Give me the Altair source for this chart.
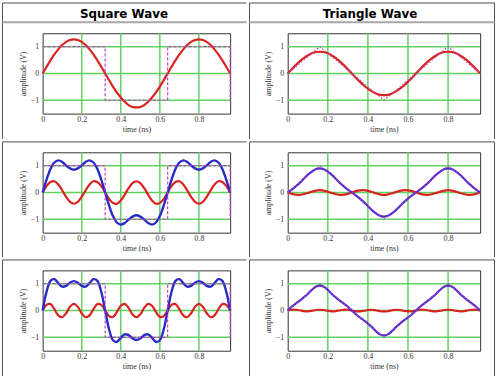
import altair as alt
import pandas as pd

# ---------------- data ----------------
time_ns = [0.00, 0.02, 0.04, 0.06, 0.08, 0.10, 0.12, 0.14, 0.16, 0.18, 0.20, 0.22, 0.24, 0.26, 0.28, 0.30,
           0.32, 0.34, 0.36, 0.38, 0.40, 0.42, 0.44, 0.46, 0.48, 0.50, 0.52, 0.54, 0.56, 0.58, 0.60, 0.62,
           0.64, 0.66, 0.68, 0.70, 0.72, 0.74, 0.76, 0.78, 0.80, 0.82, 0.84, 0.86, 0.88, 0.90, 0.92, 0.94,
           0.96]

# square wave, panel 1: fundamental (red)
sq_fund = [0, 0.25, 0.49, 0.71, 0.90, 1.06, 1.18, 1.25, 1.27, 1.25, 1.18, 1.06, 0.90, 0.71, 0.49, 0.25,
           0, -0.25, -0.49, -0.71, -0.90, -1.06, -1.18, -1.25, -1.27, -1.25, -1.18, -1.06, -0.90, -0.71, -0.49, -0.25,
           0, 0.25, 0.49, 0.71, 0.90, 1.06, 1.18, 1.25, 1.27, 1.25, 1.18, 1.06, 0.90, 0.71, 0.49, 0.25,
           0]
# square wave, panel 2: 3rd harmonic (red) and sum (blue)
sq_h3 = [0, 0.24, 0.39, 0.42, 0.30, 0.08, -0.16, -0.35, -0.42, -0.35, -0.16, 0.08, 0.30, 0.42, 0.39, 0.24,
         0, -0.24, -0.39, -0.42, -0.30, -0.08, 0.16, 0.35, 0.42, 0.35, 0.16, -0.08, -0.30, -0.42, -0.39, -0.24,
         0, 0.24, 0.39, 0.42, 0.30, 0.08, -0.16, -0.35, -0.42, -0.35, -0.16, 0.08, 0.30, 0.42, 0.39, 0.24,
         0]
sq_sum3 = [0, 0.48, 0.88, 1.12, 1.20, 1.14, 1.01, 0.90, 0.85, 0.90, 1.01, 1.14, 1.20, 1.12, 0.88, 0.48,
           0, -0.48, -0.88, -1.12, -1.20, -1.14, -1.01, -0.90, -0.85, -0.90, -1.01, -1.14, -1.20, -1.12, -0.88, -0.48,
           0, 0.48, 0.88, 1.12, 1.20, 1.14, 1.01, 0.90, 0.85, 0.90, 1.01, 1.14, 1.20, 1.12, 0.88, 0.48,
           0]
# square wave, panel 3: 5th harmonic (red) and sum (blue)
sq_h5 = [0, 0.21, 0.24, 0.05, -0.18, -0.25, -0.10, 0.14, 0.25, 0.14, -0.10, -0.25, -0.18, 0.05, 0.24, 0.21,
         0, -0.21, -0.24, -0.05, 0.18, 0.25, 0.10, -0.14, -0.25, -0.14, 0.10, 0.25, 0.18, -0.05, -0.24, -0.21,
         0, 0.21, 0.24, 0.05, -0.18, -0.25, -0.10, 0.14, 0.25, 0.14, -0.10, -0.25, -0.18, 0.05, 0.24, 0.21,
         0]
sq_sum5 = [0, 0.70, 1.11, 1.17, 1.02, 0.89, 0.92, 1.04, 1.10, 1.04, 0.92, 0.89, 1.02, 1.17, 1.11, 0.70,
           0, -0.70, -1.11, -1.17, -1.02, -0.89, -0.92, -1.04, -1.10, -1.04, -0.92, -0.89, -1.02, -1.17, -1.11, -0.70,
           0, 0.70, 1.11, 1.17, 1.02, 0.89, 0.92, 1.04, 1.10, 1.04, 0.92, 0.89, 1.02, 1.17, 1.11, 0.70,
           0]
# ideal square wave (dashed)
sq_ref_t = [0, 0.32, 0.32, 0.64, 0.64, 0.96, 0.96]
sq_ref_v = [1, 1, -1, -1, 1, 1, -1]

# triangle wave, panel 1: fundamental (red)
tri_fund = [0, 0.16, 0.31, 0.45, 0.57, 0.67, 0.75, 0.80, 0.81, 0.80, 0.75, 0.67, 0.57, 0.45, 0.31, 0.16,
            0, -0.16, -0.31, -0.45, -0.57, -0.67, -0.75, -0.80, -0.81, -0.80, -0.75, -0.67, -0.57, -0.45, -0.31, -0.16,
            0, 0.16, 0.31, 0.45, 0.57, 0.67, 0.75, 0.80, 0.81, 0.80, 0.75, 0.67, 0.57, 0.45, 0.31, 0.16,
            0]
# triangle wave, panel 2
tri_h3 = [0, -0.05, -0.08, -0.09, -0.06, -0.02, 0.03, 0.07, 0.09, 0.07, 0.03, -0.02, -0.06, -0.09, -0.08, -0.05,
          0, 0.05, 0.08, 0.09, 0.06, 0.02, -0.03, -0.07, -0.09, -0.07, -0.03, 0.02, 0.06, 0.09, 0.08, 0.05,
          0, -0.05, -0.08, -0.09, -0.06, -0.02, 0.03, 0.07, 0.09, 0.07, 0.03, -0.02, -0.06, -0.09, -0.08, -0.05,
          0]
tri_sum3 = [0, 0.11, 0.23, 0.36, 0.51, 0.66, 0.78, 0.87, 0.90, 0.87, 0.78, 0.66, 0.51, 0.36, 0.23, 0.11,
            0, -0.11, -0.23, -0.36, -0.51, -0.66, -0.78, -0.87, -0.90, -0.87, -0.78, -0.66, -0.51, -0.36, -0.23, -0.11,
            0, 0.11, 0.23, 0.36, 0.51, 0.66, 0.78, 0.87, 0.90, 0.87, 0.78, 0.66, 0.51, 0.36, 0.23, 0.11,
            0]
# triangle wave, panel 3
tri_h5 = [0, 0.03, 0.03, 0.01, -0.02, -0.03, -0.01, 0.02, 0.03, 0.02, -0.01, -0.03, -0.02, 0.01, 0.03, 0.03,
          0, -0.03, -0.03, -0.01, 0.02, 0.03, 0.01, -0.02, -0.03, -0.02, 0.01, 0.03, 0.02, -0.01, -0.03, -0.03,
          0, 0.03, 0.03, 0.01, -0.02, -0.03, -0.01, 0.02, 0.03, 0.02, -0.01, -0.03, -0.02, 0.01, 0.03, 0.03,
          0]
tri_sum5 = [0, 0.14, 0.26, 0.37, 0.49, 0.62, 0.77, 0.89, 0.93, 0.89, 0.77, 0.62, 0.49, 0.37, 0.26, 0.14,
            0, -0.14, -0.26, -0.37, -0.49, -0.62, -0.77, -0.89, -0.93, -0.89, -0.77, -0.62, -0.49, -0.37, -0.26, -0.14,
            0, 0.14, 0.26, 0.37, 0.49, 0.62, 0.77, 0.89, 0.93, 0.89, 0.77, 0.62, 0.49, 0.37, 0.26, 0.14,
            0]
# ideal triangle wave (dotted)
tri_ref_t = [0, 0.16, 0.48, 0.80, 0.96]
tri_ref_v = [0, 1, -1, 1, 0]

headers = ["Square Wave", "Triangle Wave"]
x_ticks = [0, 0.2, 0.4, 0.6, 0.8]
y_ticks = [-1, 0, 1]

# ---------------- styling ----------------
RED = "#d8231f"
BLUE = "#2a2bc4"
BLUE_TRI = "#4a2dcc"
MAG = "#c63cc8"
GRID = "#62d262"
LINE = "#505050"
SERIF = "Liberation Serif"

WIDTHS = [189, 194]
H = 81
# cell extents relative to each plot origin (left, right) per column, (top, bottom) per row
COLX = [(-42, 206), (-39, 213)]
ROWY = [(-31, 107), (-11, 106), (-11, 110)]

one = pd.DataFrame({"d": [0]})
xs = alt.Scale(domain=[0, 0.96], nice=False, zero=False)
ys = alt.Scale(domain=[-1.5, 1.5], nice=False, zero=False)
x_axis = alt.Axis(values=x_ticks, title="time (ns)", grid=False, ticks=False, domain=False,
                  labelFont=SERIF, labelFontSize=8, labelPadding=2, labelFlush=False,
                  labelOverlap=False, format=".1~f", labelColor="#333",
                  titleFont=SERIF, titleFontSize=8, titleFontWeight="normal",
                  titleColor="#333", titlePadding=2)
y_axis = alt.Axis(values=y_ticks, title="amplitude (V)", grid=False, ticks=False, domain=False,
                  labelFont=SERIF, labelFontSize=8, labelPadding=4, labelFlush=False,
                  labelOverlap=False, format=".1~f", labelColor="#333",
                  titleFont=SERIF, titleFontSize=8, titleFontWeight="normal",
                  titleColor="#333", titlePadding=3)


def rule(x0, x1, y0, y1, color=LINE, w=1):
    return alt.Chart(one).mark_rule(color=color, strokeWidth=w).encode(
        x=alt.value(x0), x2=alt.value(x1), y=alt.value(y0), y2=alt.value(y1))


def curve(values, color, width):
    df = pd.DataFrame({"t": time_ns, "v": values})
    return alt.Chart(df).mark_line(color=color, strokeWidth=width, interpolate="catmull-rom").encode(
        x=alt.X("t:Q", scale=xs, axis=x_axis), y=alt.Y("v:Q", scale=ys, axis=y_axis))


def reference(tt, vv, dash, width):
    df = pd.DataFrame({"t": tt, "v": vv, "i": list(range(len(tt)))})
    return alt.Chart(df).mark_line(color=MAG, strokeWidth=width, strokeDash=dash).encode(
        x=alt.X("t:Q", scale=xs, axis=x_axis), y=alt.Y("v:Q", scale=ys, axis=y_axis),
        order="i:Q")


def cell(col, row, ref, curves):
    W = WIDTHS[col]
    x0, x1 = COLX[col]
    y0, y1 = ROWY[row]
    layers = []
    # invisible box that fixes the size of the table cell
    layers.append(alt.Chart(one).mark_rect(opacity=0).encode(
        x=alt.value(x0), x2=alt.value(x1), y=alt.value(y0), y2=alt.value(y1)))
    # table lines
    lx = x0 + 1.5 if col == 0 else x0 + 0.5
    hx1 = x1 - 0.5 if col == 0 else W + 14.5
    top = y0 + 0.5
    bot = y1 - 0.5 if row < 2 else H + 27.5
    layers.append(rule(lx, lx, top, bot))
    if col == 1:
        layers.append(rule(W + 14.5, W + 14.5, top, bot))
    layers.append(rule(lx, hx1, top, top))
    if row == 0:
        layers.append(rule(lx, hx1, -11, -11, color="#a8a8a8", w=2))
    if row == 2:
        layers.append(rule(lx, hx1, bot, bot))
    # grid
    layers.append(alt.Chart(pd.DataFrame({"g": x_ticks[1:]})).mark_rule(color=GRID, strokeWidth=1.5).encode(
        x=alt.X("g:Q", scale=xs, axis=x_axis)))
    layers.append(alt.Chart(pd.DataFrame({"g": y_ticks})).mark_rule(color=GRID, strokeWidth=1.5).encode(
        y=alt.Y("g:Q", scale=ys, axis=y_axis)))
    for vals, color, width in curves:
        layers.append(curve(vals, color, width))
    layers.append(ref)
    if row == 0:
        layers.append(alt.Chart(pd.DataFrame({"h": [headers[col]]})).mark_text(
            font="DejaVu Sans", fontWeight="bold", fontSize=12, align="center",
            baseline="alphabetic", color="#000").encode(
            text="h:N", x=alt.value((x0 + x1) / 2 - (0 if col == 0 else 4)), y=alt.value(-15.5)))
    return alt.layer(*layers).properties(width=W, height=H)


sq_ref = lambda: reference(sq_ref_t, sq_ref_v, [3, 2], 1.2)
tri_ref = lambda: reference(tri_ref_t, tri_ref_v, [1.5, 2], 1.2)

cells = [
    cell(0, 0, sq_ref(), [(sq_fund, RED, 2.2)]),
    cell(1, 0, tri_ref(), [(tri_fund, RED, 2.2)]),
    cell(0, 1, sq_ref(), [(sq_h3, RED, 2.2), (sq_sum3, BLUE, 2.4)]),
    cell(1, 1, tri_ref(), [(tri_h3, RED, 2.2), (tri_sum3, BLUE_TRI, 2.2)]),
    cell(0, 2, sq_ref(), [(sq_h5, RED, 2.2), (sq_sum5, BLUE, 2.4)]),
    cell(1, 2, tri_ref(), [(tri_h5, RED, 2.2), (tri_sum5, BLUE_TRI, 2.2)]),
]

chart = alt.concat(*cells, columns=2, spacing=0, align="each", bounds="full").properties(
    padding=0, background="white"
).configure_view(stroke="#333333", strokeWidth=1)

chart.save("out.html", embed_options={"renderer": "svg", "actions": False})
